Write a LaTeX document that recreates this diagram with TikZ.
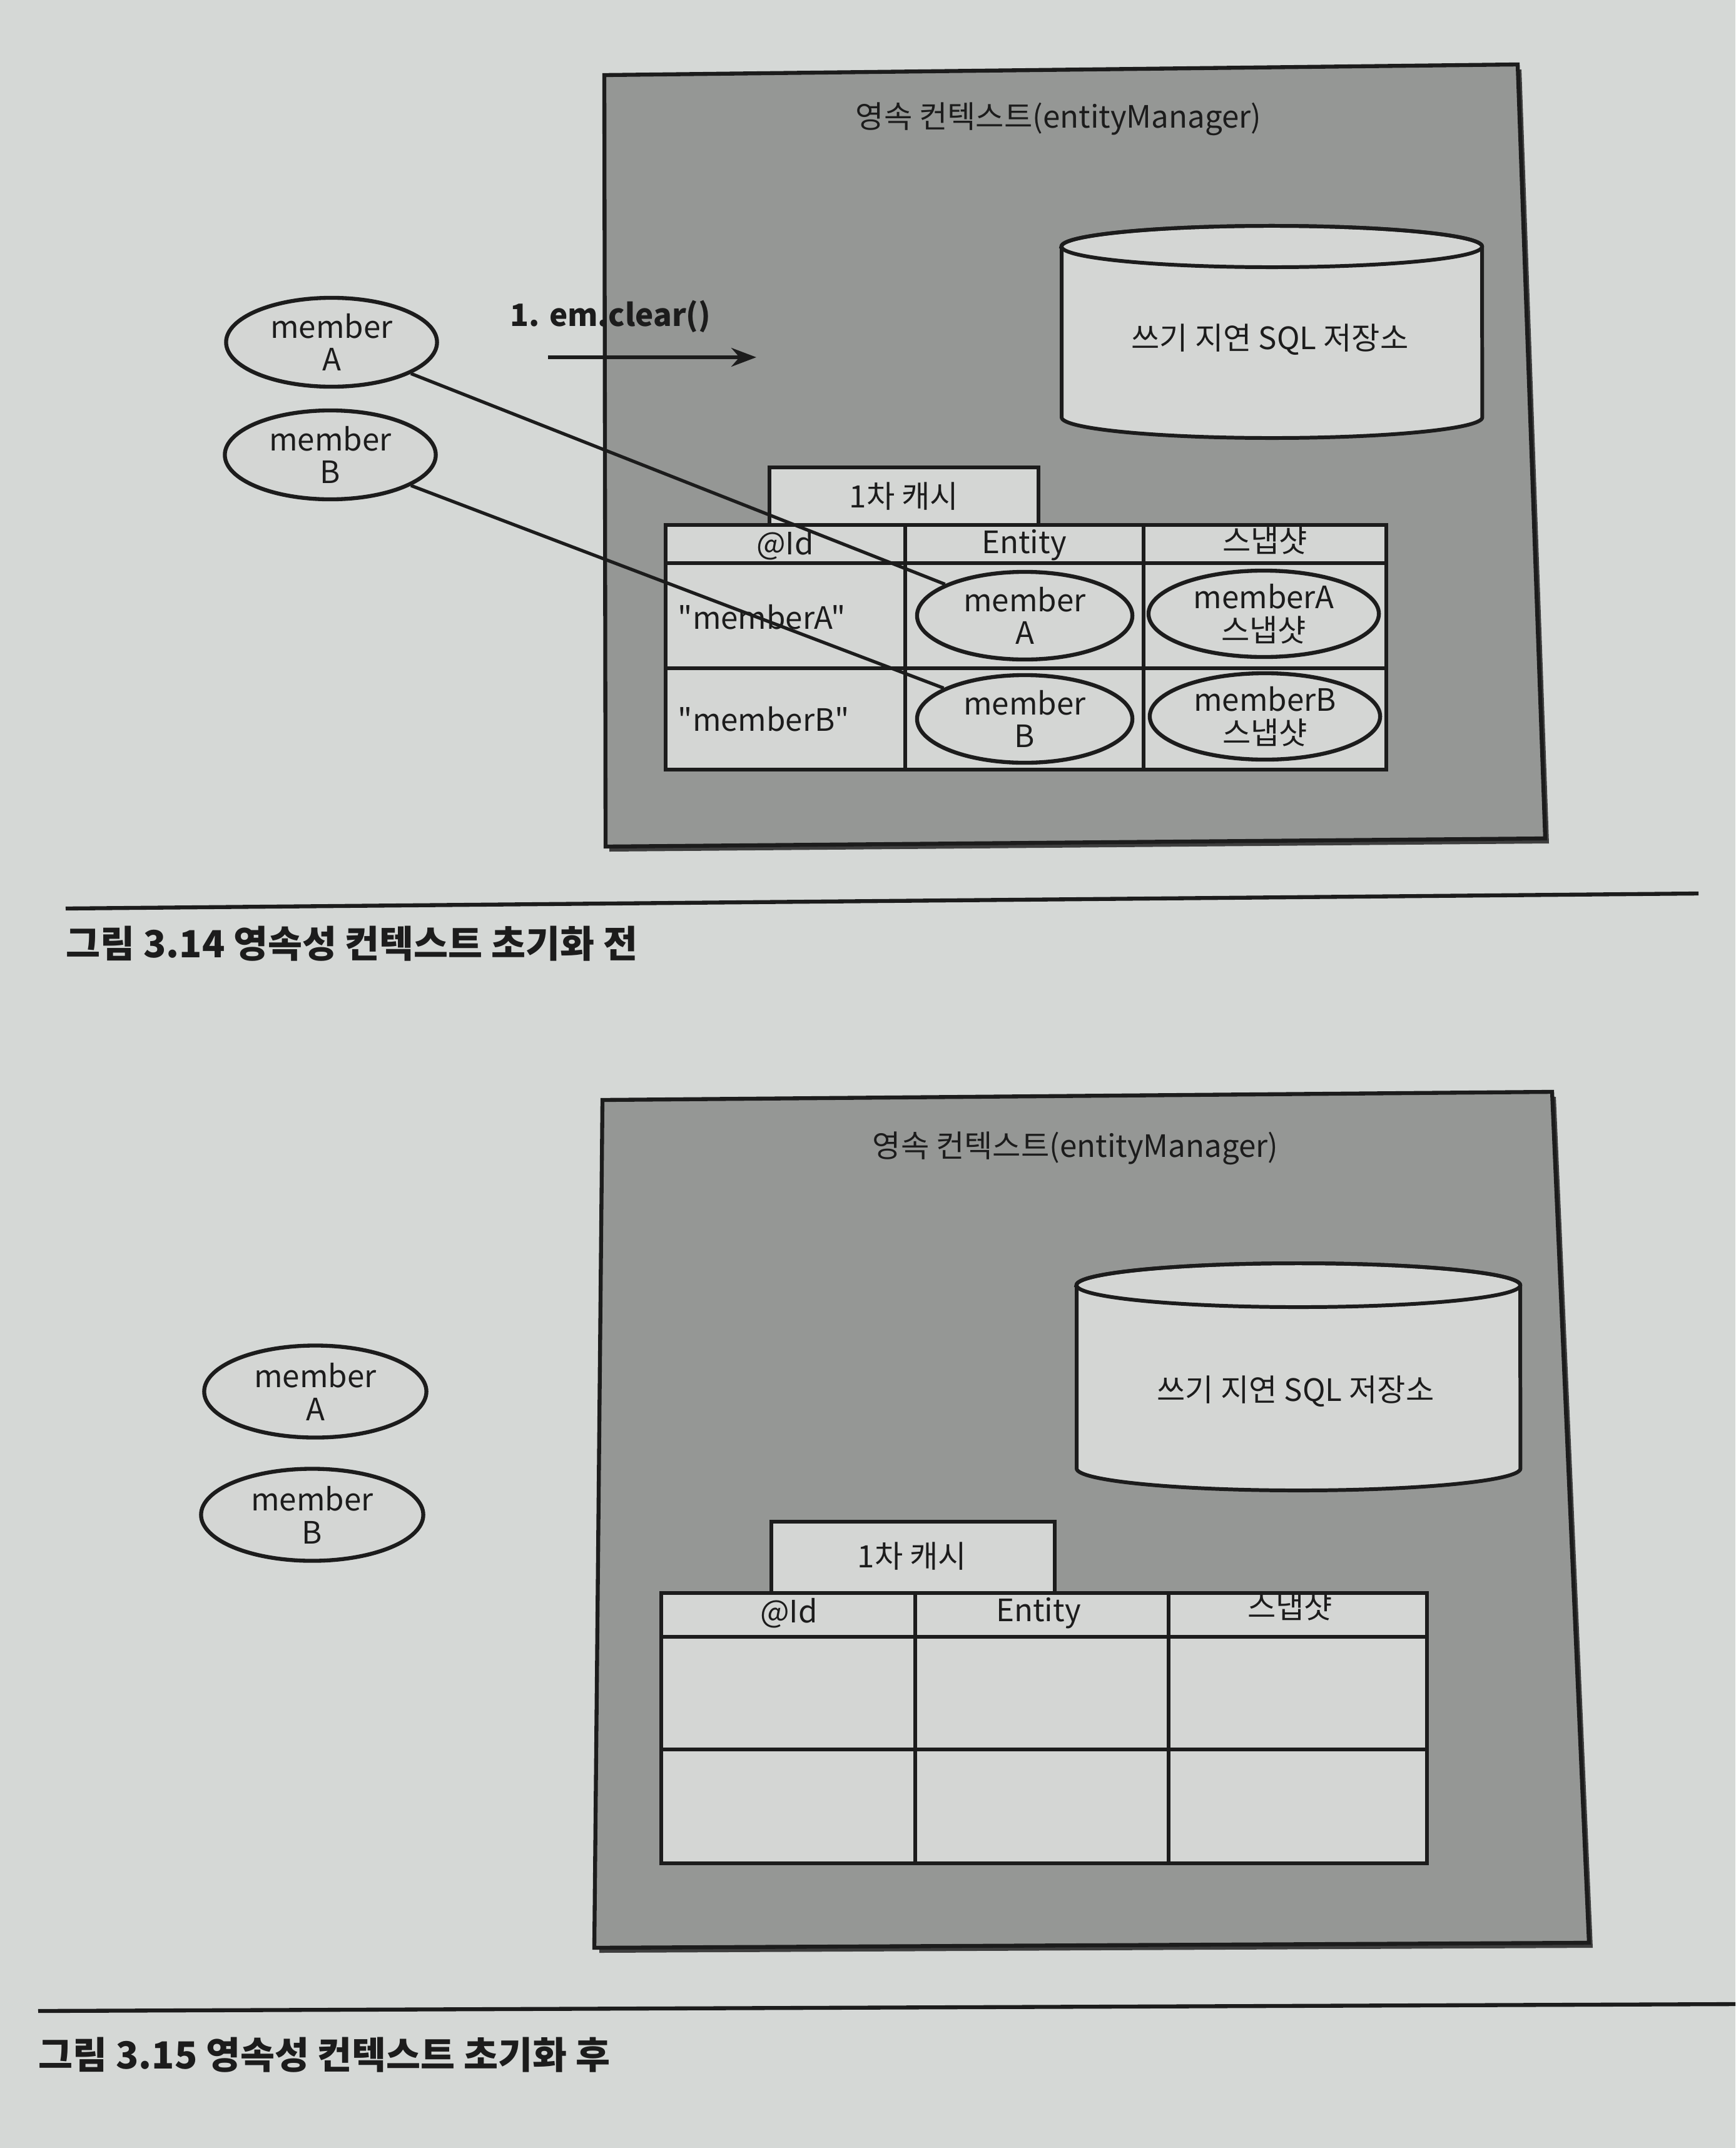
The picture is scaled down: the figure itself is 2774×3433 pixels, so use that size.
\documentclass[tikz,border=0pt]{standalone}
\usepackage{fontspec}
\setmainfont{Noto Sans CJK KR}[Ligatures=TeXOff]
\usetikzlibrary{shapes.geometric,arrows.meta}
\definecolor{page}{HTML}{D5D8D6}
\definecolor{boxgray}{HTML}{959795}
\definecolor{cellgray}{HTML}{D4D6D4}
\definecolor{ink}{HTML}{1C1C1C}
\begin{document}
\begin{tikzpicture}[x=0.01cm,y=-0.01cm,
  txt/.style={font=\fontsize{14}{15}\selectfont, text=ink, align=center, inner sep=0pt},
  oval/.style={ellipse, draw=ink, line width=1.8pt, fill=cellgray, inner sep=0pt, txt},
  ctx/.style={draw=ink, line width=1.8pt, fill=boxgray},
  shadowbox/.style={fill=ink!85},
  tbl/.style={draw=ink, line width=1.7pt, fill=cellgray},
  tline/.style={draw=ink, line width=1.7pt},
  cylbody/.style={draw=ink, line width=1.7pt, fill=cellgray},
  conn/.style={draw=ink, line width=1.5pt},
  arr/.style={draw=ink, line width=1.5pt, -{Stealth[length=4mm,width=3mm]}},
  rule/.style={draw=ink, line width=1.8pt},
  figcap/.style={font=\fontsize{17}{19}\selectfont\bfseries, text=ink, anchor=west, inner sep=0pt}
]
\fill[page] (0,0) rectangle (2774,3433);
\useasboundingbox (0,0) rectangle (2774,3433);

% ================= Figure 3.14 =================
\fill[shadowbox] (974,128) -- (2432,111) -- (2476,1348) -- (974,1361) -- cycle;
\path[ctx] (966,120) -- (2426,103) -- (2470,1340) -- (968,1353) -- cycle;
\node[txt] (t1) at (1692,190) {영속 컨텍스트(entityManager)};

% cylinder
\path[cylbody] (1697,394) -- (1697,667) arc[start angle=180,end angle=360,x radius=3.36cm,y radius=0.33cm]
  -- (2369,394) arc[start angle=0,end angle=180,x radius=3.36cm,y radius=0.33cm] -- cycle;
\draw[line width=1.7pt, draw=ink] (2033,394) ellipse[x radius=3.36cm, y radius=0.33cm];
\node[txt] (sql1) at (2030,543) {쓰기 지연 SQL 저장소};

% em.clear arrow
\node[txt, font=\fontsize{14}{15}\selectfont\bfseries] (clr) at (976,506) {1. em.clear()};
\coordinate (arrS) at (876,571);
\coordinate (arrE) at (1209,571);
\draw[arr] (arrS) -- (arrE);

% outside members
\node[oval, minimum width=3.37cm, minimum height=1.42cm] (mA1) at (530,547) {member\\A};
\node[oval, minimum width=3.37cm, minimum height=1.42cm] (mB1) at (528,727) {member\\B};

% cache label box
\path[tbl] (1230,747) rectangle (1660,839);
\node[txt] (c1) at (1445,793) {1차 캐시};

% table
\path[tbl] (1064,839) rectangle (2216,1230);
\draw[tline] (1064,900) -- (2216,900);
\draw[tline] (1064,1068) -- (2216,1068);
\draw[tline] (1447,839) -- (1447,1230);
\draw[tline] (1828,839) -- (1828,1230);
\node[txt] (h11) at (1255,871) {@Id};
\node[txt] (h12) at (1637,871) {Entity};
\node[txt] (h13) at (2022,864) {스냅샷};
\node[txt, anchor=west] (r11) at (1083,986) {"memberA"};
\node[txt, anchor=west] (r12) at (1083,1149) {"memberB"};
\node[oval, minimum width=3.44cm, minimum height=1.40cm] (eA1) at (1638,984) {member\\A};
\node[oval, minimum width=3.44cm, minimum height=1.40cm] (eB1) at (1638,1149) {member\\B};
\node[oval, minimum width=3.68cm, minimum height=1.38cm] (sA1) at (2020,981) {memberA\\스냅샷};
\node[oval, minimum width=3.68cm, minimum height=1.38cm] (sB1) at (2022,1145) {memberB\\스냅샷};

\draw[conn] (mA1) -- (eA1);
\draw[conn] (mB1) -- (eB1);

% rule + caption
\coordinate (ru1s) at (105,1452);
\coordinate (ru1e) at (2715,1428);
\draw[rule] (ru1s) -- (ru1e);
\node[figcap] (cap1) at (105,1508) {그림 3.14 영속성 컨텍스트 초기화 전};

% ================= Figure 3.15 =================
\fill[shadowbox] (971,1766) -- (2487,1753) -- (2546,3113) -- (958,3121) -- cycle;
\path[ctx] (963,1758) -- (2481,1745) -- (2540,3105) -- (950,3113) -- cycle;
\node[txt] (t2) at (1719,1835) {영속 컨텍스트(entityManager)};

\path[cylbody] (1721,2054) -- (1721,2347) arc[start angle=180,end angle=360,x radius=3.545cm,y radius=0.35cm]
  -- (2430,2054) arc[start angle=0,end angle=180,x radius=3.545cm,y radius=0.35cm] -- cycle;
\draw[line width=1.7pt, draw=ink] (2075.5,2054) ellipse[x radius=3.545cm, y radius=0.35cm];
\node[txt] (sql2) at (2071,2224) {쓰기 지연 SQL 저장소};

\node[oval, minimum width=3.55cm, minimum height=1.47cm] (mA2) at (504,2224) {member\\A};
\node[oval, minimum width=3.55cm, minimum height=1.47cm] (mB2) at (499,2421) {member\\B};

\path[tbl] (1233,2432) rectangle (1686,2546);
\node[txt] (c2) at (1458,2487) {1차 캐시};

\path[tbl] (1057,2546) rectangle (2281,2978);
\draw[tline] (1057,2616) -- (2281,2616);
\draw[tline] (1057,2796) -- (2281,2796);
\draw[tline] (1463,2546) -- (1463,2978);
\draw[tline] (1868,2546) -- (1868,2978);
\node[txt] (h21) at (1261,2578) {@Id};
\node[txt] (h22) at (1660,2578) {Entity};
\node[txt] (h23) at (2062,2568) {스냅샷};

\coordinate (ru2s) at (61,3214);
\coordinate (ru2e) at (2774,3203);
\draw[rule] (ru2s) -- (ru2e);
\node[figcap] (cap2) at (61,3284) {그림 3.15 영속성 컨텍스트 초기화 후};
\end{tikzpicture}
\end{document}
